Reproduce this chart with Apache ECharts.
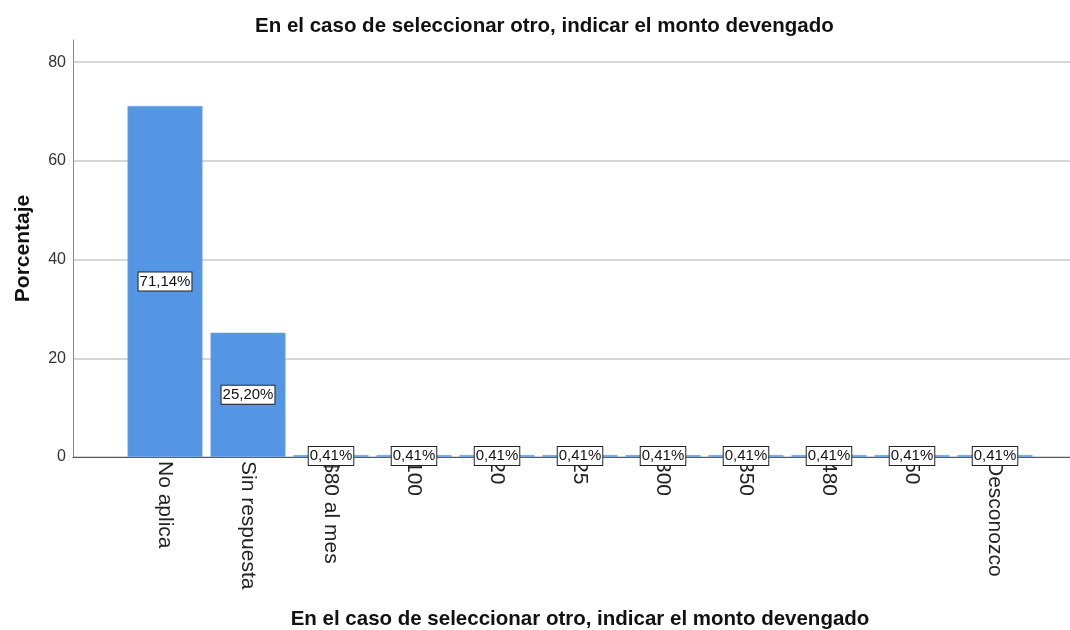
<!DOCTYPE html>
<html>
<head>
<meta charset="utf-8">
<script src="https://cdn.jsdelivr.net/npm/echarts@6/dist/echarts.min.js"></script>
<style>
  html, body { margin: 0; padding: 0; background: #fff; }
  #chart { width: 1070px; height: 630px; }
</style>
</head>
<body>
<div id="chart"></div>
<script>
// data
const categories = ["No aplica", "Sin respuesta", "$80 al mes", "100", "20", "25", "300", "350", "480", "50", "Desconozco"];
const percentages = [71.14, 25.20, 0.41, 0.41, 0.41, 0.41, 0.41, 0.41, 0.41, 0.41, 0.41];
const yTicks = [0, 20, 40, 60, 80];

const titleText = "En el caso de seleccionar otro, indicar el monto devengado";
const font = "Liberation Sans, Arial, sans-serif";

const chart = echarts.init(document.getElementById("chart"));

const yMax = 84.5;

chart.setOption({
  animation: false,
  title: {
    text: titleText,
    left: 250,
    top: 11,
    textStyle: { fontFamily: font, fontSize: 20.5, fontWeight: "bold", color: "#111" }
  },
  grid: [
    // frame: y axis, grid lines, base line
    { left: 73, right: 0, top: 40, bottom: 173, outerBoundsMode: "none", containLabel: false },
    // bars
    { left: 123.5, width: 913, top: 40, bottom: 173, outerBoundsMode: "none", containLabel: false }
  ],
  xAxis: [
    {
      gridIndex: 0, type: "value", min: 0, max: 1,
      axisLine: { show: true, lineStyle: { color: "#555", width: 1 } },
      axisTick: { show: false }, axisLabel: { show: false }, splitLine: { show: false }
    },
    {
      gridIndex: 1, type: "category", data: categories,
      axisLine: { show: false }, axisTick: { show: false },
      axisLabel: {
        rotate: -90, margin: 4, interval: 0,
        fontFamily: font, fontSize: 21, color: "#222"
      },
      name: titleText, nameLocation: "middle", nameGap: 152,
      nameTextStyle: { fontFamily: font, fontSize: 20.5, fontWeight: "bold", color: "#111" }
    }
  ],
  yAxis: [
    {
      gridIndex: 0, type: "value", min: 0, max: yMax, interval: 20,
      axisLine: { show: true, lineStyle: { color: "#888" } },
      axisTick: { show: false },
      axisLabel: {
        margin: 7, fontFamily: font, fontSize: 16, color: "#333",
        formatter: v => (yTicks.includes(v) ? String(v) : "")
      },
      splitLine: { show: true, showMaxLine: false, lineStyle: { color: "#d6d6d6", width: 2 } },
      name: "Porcentaje", nameLocation: "middle", nameGap: 39, nameRotate: 90,
      nameTextStyle: { fontFamily: font, fontSize: 21, fontWeight: "bold", color: "#111" }
    },
    {
      gridIndex: 1, type: "value", min: 0, max: yMax, interval: 20, show: false
    }
  ],
  series: [
    {
      type: "bar",
      xAxisIndex: 1, yAxisIndex: 1,
      data: percentages,
      barWidth: 75,
      itemStyle: { color: "#5495e4", borderColor: "#7aaeea", borderWidth: 0.5 },
      label: {
        show: true, position: "inside",
        formatter: p => p.value.toFixed(2).replace(".", ",") + "%",
        fontFamily: font, fontSize: 15, color: "#111",
        backgroundColor: "#fff", borderColor: "#222", borderWidth: 1,
        padding: [2, 1, 1, 1]
      }
    }
  ]
});
</script>
</body>
</html>
